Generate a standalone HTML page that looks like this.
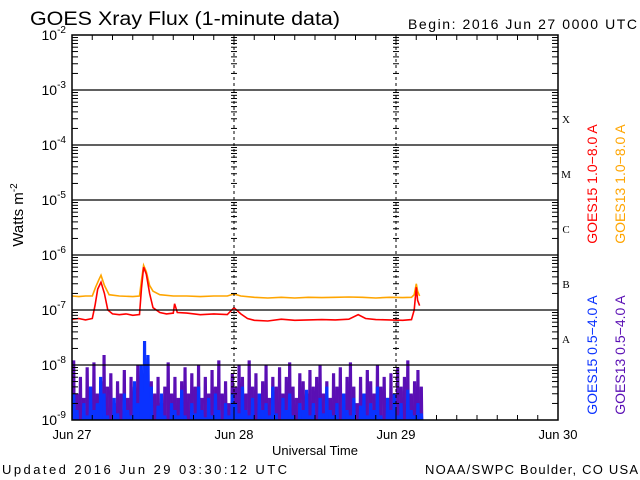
<!DOCTYPE html>
<html><head><meta charset="utf-8"><style>
body{margin:0;background:#fff;}
svg{display:block;font-family:"Liberation Sans",sans-serif;}
</style></head><body>
<svg id="c" width="640" height="480" viewBox="0 0 640 480">
<g id="plot"></g>
</svg>
<script>
// Data (time in hours since 2016 Jun 27 00:00 UTC)
const longTimes15 = [0,1,2,3,3.4,3.8,4.3,4.8,5.3,6,7,8,9,10,10.3,10.6,11,11.5,12,13,14,15,15.2,15.6,17,19,21,23,24,25,26,27,29,31,33,35,37,39,41,42.4,43.5,45,47,49,50.3,50.7,51,51.2,51.5];
const longVals15 = [6.8e-8,7e-8,6.6e-8,7e-8,1.2e-7,2.4e-7,3.2e-7,2e-7,1e-7,8.5e-8,8.2e-8,8.5e-8,8e-8,8.3e-8,2.5e-7,6e-7,4.5e-7,2e-7,1.1e-7,9e-8,8.5e-8,8.8e-8,1.3e-7,9e-8,8.8e-8,8.2e-8,8.5e-8,8.3e-8,1.1e-7,8.5e-8,7e-8,6.5e-8,6.3e-8,6.8e-8,6.5e-8,6.6e-8,6.7e-8,6.6e-8,6.8e-8,8.2e-8,7e-8,6.7e-8,6.6e-8,6.5e-8,6.7e-8,1e-7,2.6e-7,1.5e-7,1.2e-7];
const longTimes13 = [0,1,2,3,3.5,4,4.3,4.8,5.5,7,9,10,10.3,10.6,11,11.5,12,13,15,17,19,21,23,24,25,27,29,31,33,35,37,39,41,43,45,47,49,50.3,50.7,51,51.2,51.5];
const longVals13 = [1.8e-7,1.75e-7,1.8e-7,1.8e-7,2.6e-7,3.6e-7,4.3e-7,2.8e-7,1.9e-7,1.8e-7,1.75e-7,1.8e-7,3.5e-7,6.5e-7,5e-7,2.8e-7,2.2e-7,1.9e-7,1.8e-7,1.8e-7,1.75e-7,1.8e-7,1.8e-7,1.95e-7,1.8e-7,1.7e-7,1.65e-7,1.7e-7,1.65e-7,1.7e-7,1.68e-7,1.7e-7,1.72e-7,1.7e-7,1.65e-7,1.7e-7,1.68e-7,1.7e-7,1.9e-7,3e-7,2.2e-7,1.8e-7];
// short channels, sampled every 0.5 h from 0 to 51.5
const shortStep = 0.5;
const short13 = [1.2e-8,3e-9,6e-9,2.5e-9,9e-9,4e-9,1.1e-8,3e-9,5e-9,1.5e-8,4e-9,7e-9,2e-9,5e-9,3e-9,8e-9,2.5e-9,6e-9,4e-9,1e-8,3e-9,7e-9,1.3e-8,5e-9,3e-9,6e-9,2e-9,4e-9,1.1e-8,3e-9,6e-9,2.5e-9,5e-9,9e-9,3e-9,7e-9,4e-9,1e-8,2.5e-9,6e-9,3e-9,8e-9,4e-9,1.2e-8,3e-9,5e-9,2e-9,7e-9,4e-9,1e-8,6e-9,3e-9,1.2e-8,4e-9,7e-9,3e-9,5e-9,1e-8,2.5e-9,6e-9,4e-9,9e-9,3e-9,6e-9,1.1e-8,4e-9,2.5e-9,7e-9,5e-9,3e-9,8e-9,4e-9,6e-9,1e-8,3e-9,5e-9,2.5e-9,7e-9,4e-9,9e-9,3e-9,6e-9,1.1e-8,4e-9,2e-9,6e-9,3e-9,8e-9,5e-9,3e-9,1e-8,4e-9,6e-9,2.5e-9,7e-9,3e-9,9e-9,4e-9,6e-9,1.2e-8,3e-9,5e-9,8e-9,4e-9];
const short15 = [3e-9,1.5e-9,1e-9,2e-9,1.2e-9,4e-9,1.5e-9,2e-9,6e-9,3e-9,1.2e-9,1e-9,2.5e-9,1.3e-9,1e-9,3e-9,1.5e-9,1.2e-9,5e-9,2e-9,1e-8,2.7e-8,1.5e-8,4e-9,1e-9,1.8e-9,3e-9,1.2e-9,1e-9,2e-9,1.5e-9,1.2e-9,3.5e-9,1.2e-9,1e-9,2e-9,1.3e-9,4e-9,1.5e-9,1.1e-9,2.5e-9,1.2e-9,3e-9,1.5e-9,1e-9,2e-9,1.2e-9,3e-9,2e-9,1.3e-9,4e-9,1.5e-9,1.2e-9,2.5e-9,1e-9,3e-9,1.5e-9,2e-9,1.2e-9,4e-9,1.3e-9,1e-9,2.5e-9,1.5e-9,3e-9,1.2e-9,1e-9,2e-9,1.5e-9,3.5e-9,1.2e-9,2e-9,1e-9,2.5e-9,1.3e-9,4e-9,1.5e-9,1.2e-9,2e-9,1e-9,3e-9,1.5e-9,1.2e-9,2.5e-9,1e-9,1.8e-9,3e-9,1.2e-9,2e-9,1.5e-9,4e-9,1.2e-9,1e-9,2.5e-9,1.5e-9,3e-9,1.2e-9,2e-9,1e-9,3.5e-9,1.5e-9,1.2e-9,2e-9,1.3e-9];
const dayLabels = ["Jun 27","Jun 28","Jun 29","Jun 30"];
const decadeExps = [-9,-8,-7,-6,-5,-4,-3,-2];
const classLabels = ["A","B","C","M","X"];

const L=72,R=558,T=35,B=420;
const X=h=>L+(R-L)*h/72;
const Y=v=>B-(Math.log10(v)+9)*(B-T)/7;
const ns="http://www.w3.org/2000/svg";
const g=document.getElementById('plot');
function mk(tag,attrs,parent){const e=document.createElementNS(ns,tag);for(const k in attrs)e.setAttribute(k,attrs[k]);(parent||g).appendChild(e);return e;}

function shortPath(arr,color,name){
  let d="M"+X(0)+","+B;
  arr.forEach((v,i)=>{const x1=X(i*shortStep),x2=X((i+1)*shortStep);const y=Math.min(B,Y(Math.max(v,1e-9)));d+=` L${x1},${B} L${x1+0.4},${y} L${x2-0.4},${y} L${x2},${B}`;});
  d+=" Z";
  const p=mk('path',{d:d,fill:color,stroke:color,'stroke-width':0.6});
  
  
}
shortPath(short13,"#5a0fb4","series-goes13-short");
shortPath(short15,"#0a32ff","series-goes15-short");

function line(ts,vs,color,name){
  const pts=ts.map((t,i)=>X(t).toFixed(1)+","+Y(vs[i]).toFixed(1)).join(" ");
  const p=mk('polyline',{points:pts,fill:'none',stroke:color,'stroke-width':1.6});
  
  
}
line(longTimes13,longVals13,"#ffa500","series-goes13-long");
line(longTimes15,longVals15,"#ff0000","series-goes15-long");

decadeExps.forEach(e=>{
  const y=Y(Math.pow(10,e));
  if(e>-9&&e<-2){const l=mk('line',{x1:L,x2:R,y1:y,y2:y,stroke:'#000','stroke-width':1.2});}
  const t=mk('text',{x:L-6,y:y+5,'text-anchor':'end','font-size':14});
  
  t.textContent="10";const s=mk('tspan',{dy:-7,'font-size':10},t);s.textContent=String(e);
  if(e<-2){for(let m=2;m<=9;m++){const yy=Y(m*Math.pow(10,e));
    mk('line',{x1:L,x2:L+6,y1:yy,y2:yy,stroke:'#000'});
    mk('line',{x1:R-6,x2:R,y1:yy,y2:yy,stroke:'#000'});
    [X(24),X(48)].forEach(x=>mk('line',{x1:x-3,x2:x+3,y1:yy,y2:yy,stroke:'#000'}));}}
});
[X(24),X(48)].forEach(x=>{const l=mk('line',{x1:x,x2:x,y1:T,y2:B,stroke:'#000','stroke-dasharray':'3,3'});});
for(let h=3;h<72;h+=3){const x=X(h);const len=h%24==0?10:5;
  mk('line',{x1:x,x2:x,y1:T,y2:T+len,stroke:'#000'});mk('line',{x1:x,x2:x,y1:B-len,y2:B,stroke:'#000'});}
const fr=mk('rect',{x:L,y:T,width:R-L,height:B-T,fill:'none',stroke:'#000','stroke-width':1.5});

dayLabels.forEach((d,i)=>{const t=mk('text',{x:X(i*24),y:439,'text-anchor':'middle','font-size':13});t.textContent=d;});
classLabels.forEach((c,i)=>{const t=mk('text',{x:566,y:Y(Math.pow(10,-8+i))-22,'text-anchor':'middle','font-size':11,'font-family':'Liberation Serif'});t.textContent=c;});
</script>
<div style="position:absolute;left:0;top:0;width:640px;height:480px;pointer-events:none">
<svg width="640" height="480" style="font-family:'Liberation Sans',sans-serif">
<text x="30" y="25" font-size="19" textLength="310" lengthAdjust="spacingAndGlyphs">GOES Xray Flux (1-minute data)</text>
<text x="408" y="29" font-size="14" textLength="229">Begin:  2016 Jun 27 0000 UTC</text>
<text transform="translate(23,215) rotate(-90)" text-anchor="middle" font-size="15">Watts m<tspan dy="-6" font-size="10">-2</tspan></text>
<text x="315" y="455" text-anchor="middle" font-size="13">Universal Time</text>
<text x="2" y="474" font-size="13" textLength="285">Updated 2016 Jun 29 03:30:12 UTC</text>
<text x="425" y="474" font-size="13" textLength="213">NOAA/SWPC Boulder, CO USA</text>
<text transform="translate(597,184) rotate(-90)" text-anchor="middle" font-size="14" fill="#ff0000">GOES15 1.0−8.0 A</text>
<text transform="translate(625,184) rotate(-90)" text-anchor="middle" font-size="14" fill="#ffa500">GOES13 1.0−8.0 A</text>
<text transform="translate(597,355) rotate(-90)" text-anchor="middle" font-size="14" fill="#0a32ff">GOES15 0.5−4.0 A</text>
<text transform="translate(625,355) rotate(-90)" text-anchor="middle" font-size="14" fill="#5a0fb4">GOES13 0.5−4.0 A</text>
</svg></div>
</body></html>
